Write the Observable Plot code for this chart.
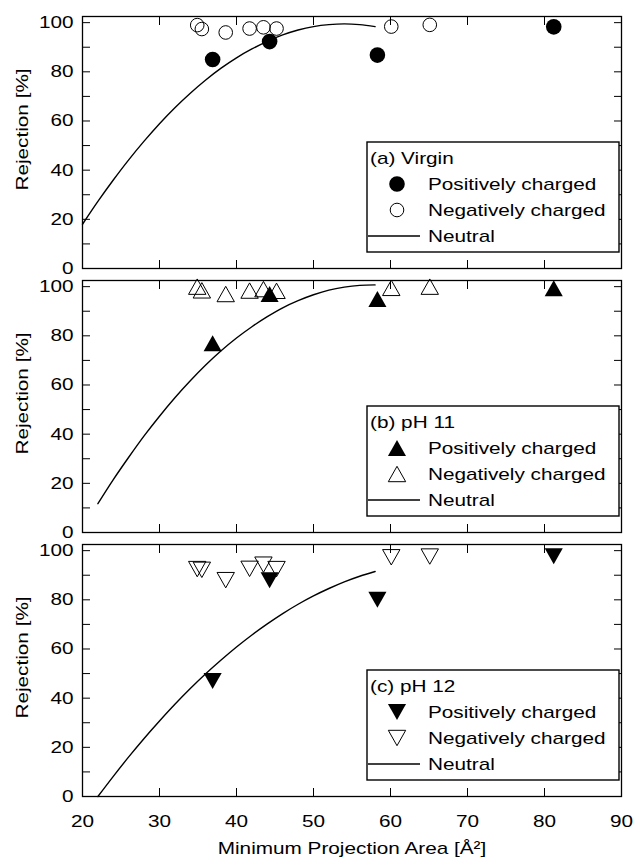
<!DOCTYPE html>
<html><head><meta charset="utf-8">
<script src="https://cdn.jsdelivr.net/npm/d3@7"></script>
<script src="https://cdn.jsdelivr.net/npm/@observablehq/plot@0.6"></script>
<style>
body{margin:0;background:#fff;}
#wrap{position:relative;width:637px;height:862px;background:#fff;}
#wrap svg{position:absolute;left:0;top:0;}
</style></head><body><div id="wrap"></div>
<script>
// ---------- data ----------
const panels = ["a", "b", "c"];
const panelTitles = ["(a) Virgin", "(b) pH 11", "(c) pH 12"];
const seriesNames = ["Positively charged", "Negatively charged", "Neutral"];
const xLabel = "Minimum Projection Area [Å²]";
const yLabel = "Rejection [%]";
const xTicks = [20, 30, 40, 50, 60, 70, 80, 90];
const yTicks = [0, 20, 40, 60, 80, 100];
const yMinorTicks = [0, 10, 20, 30, 40, 50, 60, 70, 80, 90, 100];

// positively charged solutes
const posArea = [36.9, 44.3, 58.3, 81.2];
const posA = [85.0, 92.3, 86.8, 98.3];
const posB = [77.0, 97.0, 95.0, 99.3];
const posC = [47.0, 88.0, 80.0, 97.7];

// negatively charged solutes
const negArea = [34.9, 35.5, 38.6, 41.7, 43.5, 45.2, 60.1, 65.1];
const negA = [99.0, 97.4, 96.0, 97.6, 98.1, 97.6, 98.4, 99.1];
const negB = [100.0, 98.5, 97.0, 98.4, 99.0, 98.3, 99.5, 100.0];
const negC = [92.5, 92.2, 88.0, 92.6, 94.3, 92.5, 97.3, 97.6];

// neutral solutes (fitted curve as drawn)
const neutralAreaA = [20, 22, 24, 26, 28, 30, 32, 34, 36, 38, 40, 42, 44, 46, 48, 50, 52, 54, 56, 58];
const neutralA = [18.0, 27.3, 36.0, 44.2, 51.8, 58.9, 65.4, 71.3, 76.7, 81.5, 85.7, 89.3, 92.4, 95.0, 97.0, 98.4, 99.2, 99.5, 99.2, 98.4];
const neutralAreaBC = [22, 24, 26, 28, 30, 32, 34, 36, 38, 40, 42, 44, 46, 48, 50, 52, 54, 56, 58];
const neutralB = [11.7, 21.5, 30.6, 39.3, 47.3, 54.8, 61.7, 68.1, 73.9, 79.1, 83.7, 87.8, 91.4, 94.3, 96.7, 98.6, 99.8, 100.5, 100.7];
const neutralC = [0.0, 8.2, 16.1, 23.6, 30.7, 37.5, 43.9, 49.9, 55.5, 60.8, 65.7, 70.2, 74.4, 78.2, 81.6, 84.6, 87.3, 89.6, 91.5];

// ---------- tables ----------
const posVals = [posA, posB, posC];
const negVals = [negA, negB, negC];
const posRows = panels.map((p, i) => posArea.map((x, j) => ({panel: p, x, y: posVals[i][j]})));
const negRows = panels.map((p, i) => negArea.map((x, j) => ({panel: p, x, y: negVals[i][j]})));
const neutralRows = [
  ...neutralAreaA.map((x, j) => ({panel: "a", x, y: neutralA[j]})),
  ...neutralAreaBC.map((x, j) => ({panel: "b", x, y: neutralB[j]})),
  ...neutralAreaBC.map((x, j) => ({panel: "c", x, y: neutralC[j]}))
];

// ---------- symbols ----------
function tri(dir) {
  return {draw(ctx, size) {
    const r = Math.sqrt(size / Math.PI), w = r * 1.13;
    ctx.moveTo(0, -dir * r); ctx.lineTo(w, dir * r); ctx.lineTo(-w, dir * r); ctx.closePath();
  }};
}
const triUp = tri(1), triDown = tri(-1);
const panelSymbol = ["circle", triUp, triDown];
const d3Symbol = [d3.symbolCircle, triUp, triDown];
const filledR = [7.8, 8, 8];
const hollowR = [6.8, 7.7, 7.7];

const FONT = '"Liberation Sans", Arial, Helvetica, sans-serif';
const STRETCH = 1.22;

const bandH = 252, gap = 12.5, step = bandH + gap;

const marks = [
  Plot.frame({stroke: "black", strokeWidth: 1.3}),
  Plot.axisY(yMinorTicks, {anchor: "left", tickSize: 8, dx: 8, fill: "none", label: null}),
  Plot.axisY(yMinorTicks, {anchor: "right", tickSize: 8, dx: -8, fill: "none", label: null}),
  Plot.axisX(xTicks, {anchor: "top", tickSize: 8, dy: 8, fill: "none", label: null, facetAnchor: null}),
  Plot.axisX(xTicks, {anchor: "bottom", tickSize: 8, dy: -8, fill: "none", label: null, facetAnchor: null}),
  Plot.axisY(yTicks, {anchor: "left", tickSize: 0, tickPadding: 9, label: null}),
  Plot.axisX(xTicks, {anchor: "bottom", tickSize: 0, tickPadding: 18, label: xLabel, labelAnchor: "center", labelOffset: 57, labelArrow: "none"}),
  Plot.text([yLabel], {text: d => d, frameAnchor: "left", textAnchor: "middle", lineAnchor: "middle", rotate: -90, dx: -60, dy: -13}),
  Plot.line(neutralRows, {x: "x", y: "y", fy: "panel", z: "panel", stroke: "black", strokeWidth: 1.4, curve: "catmull-rom"})
];
panels.forEach((p, i) => {
  marks.push(Plot.dot(negRows[i], {x: "x", y: "y", fy: "panel", symbol: panelSymbol[i], r: hollowR[i], fill: "none", stroke: "black", strokeWidth: 1}));
  marks.push(Plot.dot(posRows[i], {x: "x", y: "y", fy: "panel", symbol: panelSymbol[i], r: filledR[i], fill: "black", stroke: "none"}));
});

const chart = Plot.plot({
  width: 637,
  height: 862,
  marginLeft: 82,
  marginRight: 16,
  marginTop: 15,
  marginBottom: 66,
  style: {fontFamily: FONT, fontSize: "17px", background: "transparent", color: "black", overflow: "visible"},
  x: {domain: [20, 90]},
  y: {domain: [0, 102.5]},
  fy: {domain: panels, axis: null, paddingInner: gap / step, paddingOuter: 0},
  marks
});

const wrap = document.getElementById("wrap");
wrap.appendChild(chart);

// ---------- in-panel legends ----------
const fy = chart.scale("fy");
const ov = d3.select(wrap).append("svg")
  .attr("width", 637).attr("height", 862)
  .style("font-family", FONT).style("font-size", "17px").style("overflow", "visible");
const rowY = [16, 42, 68, 94];
panels.forEach((p, i) => {
  const bandTop = (fy && fy.apply(p) != null) ? fy.apply(p) : 15 + i * step;
  const g = ov.append("g").attr("transform", `translate(367,${bandTop + 126})`);
  g.append("rect").attr("width", 252).attr("height", 110)
    .attr("fill", "white").attr("stroke", "black").attr("stroke-width", 1.4);
  g.append("text").attr("x", 3).attr("y", rowY[0]).attr("dy", "0.35em").text(panelTitles[i]);
  g.append("path").attr("transform", `translate(30,${rowY[1]})`)
    .attr("d", d3.symbol(d3Symbol[i], Math.PI * filledR[i] * filledR[i])())
    .attr("fill", "black");
  g.append("text").attr("x", 61).attr("y", rowY[1]).attr("dy", "0.35em").text(seriesNames[0]);
  g.append("path").attr("transform", `translate(30,${rowY[2]})`)
    .attr("d", d3.symbol(d3Symbol[i], Math.PI * hollowR[i] * hollowR[i])())
    .attr("fill", "none").attr("stroke", "black").attr("stroke-width", 1);
  g.append("text").attr("x", 61).attr("y", rowY[2]).attr("dy", "0.35em").text(seriesNames[1]);
  g.append("line").attr("x1", 1).attr("x2", 53).attr("y1", rowY[3]).attr("y2", rowY[3])
    .attr("stroke", "black").attr("stroke-width", 1.4);
  g.append("text").attr("x", 61).attr("y", rowY[3]).attr("dy", "0.35em").text(seriesNames[2]);
});

// widen glyphs horizontally to match the reference typeface
function stretch(el, k) {
  el.querySelectorAll("text").forEach(t => {
    const L = t.getComputedTextLength();
    if (L > 0) {
      t.setAttribute("textLength", (L * k).toFixed(2));
      t.setAttribute("lengthAdjust", "spacingAndGlyphs");
    }
  });
}
stretch(chart, STRETCH);
stretch(ov.node(), STRETCH);
</script></body></html>
